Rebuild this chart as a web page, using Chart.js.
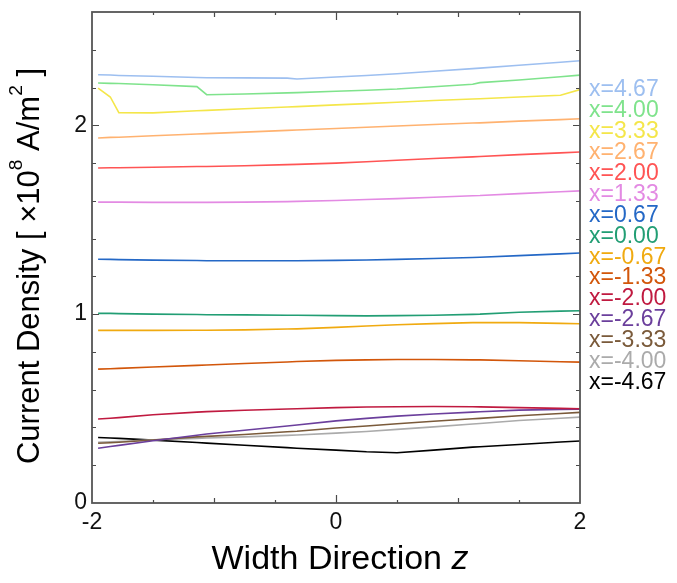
<!DOCTYPE html>
<html>
<head>
<meta charset="utf-8">
<title>Current Density vs Width Direction</title>
<script src="https://cdn.jsdelivr.net/npm/chart.js@4.4.1/dist/chart.umd.min.js"></script>
<style>
    html, body { margin: 0; padding: 0; background: #fff; }
    #wrap { width: 677px; height: 583px; }
</style>
</head>
<body>
<div id="wrap"><canvas id="densityChart" width="677" height="583"></canvas></div>
<script>
// width direction samples (shared by all curves)
const zValues = [-1.95, -1.85, -1.78, -1.5, -1.14, -1.06, -0.75, -0.4, -0.32, 0, 0.25, 0.5, 0.8, 1.12, 1.18, 1.5, 1.84, 2];

// current density [x10^8 A/m^2], one array per x position
const jXp467 = [2.268, 2.266, 2.264, 2.260, 2.253, 2.252, 2.251, 2.250, 2.245, 2.256, 2.264, 2.273, 2.286, 2.300, 2.303, 2.318, 2.334, 2.342];
const jXp400 = [2.224, 2.222, 2.221, 2.215, 2.205, 2.162, 2.166, 2.172, 2.173, 2.180, 2.186, 2.192, 2.204, 2.217, 2.226, 2.240, 2.257, 2.266];
const jXp333 = [2.197, 2.150, 2.067, 2.066, 2.077, 2.079, 2.088, 2.097, 2.099, 2.108, 2.115, 2.122, 2.131, 2.139, 2.141, 2.150, 2.159, 2.189];
const jXp267 = [1.933, 1.936, 1.937, 1.945, 1.954, 1.956, 1.964, 1.973, 1.975, 1.983, 1.990, 1.996, 2.004, 2.012, 2.013, 2.022, 2.030, 2.035];
const jXp200 = [1.774, 1.775, 1.775, 1.778, 1.782, 1.782, 1.786, 1.792, 1.793, 1.800, 1.807, 1.815, 1.824, 1.833, 1.835, 1.845, 1.854, 1.859];
const jXp133 = [1.593, 1.593, 1.593, 1.592, 1.592, 1.592, 1.593, 1.596, 1.597, 1.602, 1.607, 1.612, 1.619, 1.627, 1.628, 1.638, 1.648, 1.653];
const jXp067 = [1.291, 1.290, 1.289, 1.286, 1.284, 1.283, 1.283, 1.283, 1.283, 1.285, 1.287, 1.290, 1.295, 1.300, 1.301, 1.310, 1.319, 1.324];
const jX000 = [1.004, 1.004, 1.003, 1.000, 0.998, 0.997, 0.996, 0.994, 0.994, 0.992, 0.991, 0.992, 0.994, 0.999, 1.000, 1.010, 1.016, 1.018];
const jXm067 = [0.914, 0.914, 0.914, 0.914, 0.915, 0.915, 0.917, 0.921, 0.922, 0.930, 0.937, 0.944, 0.950, 0.955, 0.955, 0.955, 0.951, 0.949];
const jXm133 = [0.709, 0.711, 0.713, 0.720, 0.729, 0.731, 0.739, 0.747, 0.749, 0.755, 0.758, 0.760, 0.760, 0.758, 0.758, 0.753, 0.748, 0.746];
const jXm200 = [0.445, 0.449, 0.452, 0.467, 0.481, 0.484, 0.491, 0.498, 0.499, 0.505, 0.508, 0.510, 0.511, 0.510, 0.509, 0.505, 0.501, 0.499];
const jXm267 = [0.290, 0.299, 0.305, 0.330, 0.359, 0.365, 0.385, 0.408, 0.413, 0.435, 0.448, 0.460, 0.471, 0.481, 0.483, 0.492, 0.496, 0.497];
const jXm333 = [0.316, 0.319, 0.322, 0.334, 0.350, 0.353, 0.363, 0.377, 0.380, 0.397, 0.408, 0.420, 0.433, 0.446, 0.448, 0.462, 0.474, 0.480];
const jXm400 = [0.322, 0.324, 0.326, 0.335, 0.342, 0.344, 0.350, 0.358, 0.360, 0.370, 0.379, 0.390, 0.403, 0.418, 0.421, 0.437, 0.449, 0.455];
const jXm467 = [0.347, 0.344, 0.342, 0.333, 0.320, 0.317, 0.306, 0.293, 0.290, 0.280, 0.271, 0.266, 0.280, 0.296, 0.298, 0.310, 0.323, 0.328];

const seriesLabels = ['x=4.67', 'x=4.00', 'x=3.33', 'x=2.67', 'x=2.00', 'x=1.33', 'x=0.67', 'x=0.00',
    'x=-0.67', 'x=-1.33', 'x=-2.00', 'x=-2.67', 'x=-3.33', 'x=-4.00', 'x=-4.67'];
const seriesValues = [jXp467, jXp400, jXp333, jXp267, jXp200, jXp133, jXp067, jX000,
    jXm067, jXm133, jXm200, jXm267, jXm333, jXm400, jXm467];
const seriesColors = ['#9dbff0', '#7fe38c', '#f4e64a', '#ffb270', '#ff5454', '#e38ae3', '#2468c6', '#229e74',
    '#f0aa10', '#d2560a', '#c01a40', '#6b3f9c', '#7a5a3a', '#ababab', '#000000'];

const yTickLabels = [0, 1, 2];
const xTickLabels = [-2, 0, 2];

const FONT = "'Liberation Sans', Arial, sans-serif";

function isNear(v, list) {
    return list.some(t => Math.abs(v - t) < 1e-6);
}

// frame with inward ticks on all four sides
const framePlugin = {
    id: 'frame',
    afterDatasetsDraw(chart) {
        const { ctx, chartArea: a, scales: { x, y } } = chart;
        ctx.save();
        ctx.strokeStyle = '#4a4a4a';
        ctx.lineWidth = 1.2;
        ctx.beginPath();
        for (let i = 1; i < 13; i++) {
            const v = i * 0.2;
            const py = Math.round(y.getPixelForValue(v)) + 0.5;
            const len = isNear(v, [1, 2]) ? 7 : 4;
            ctx.moveTo(a.left, py); ctx.lineTo(a.left + len, py);
            ctx.moveTo(a.right, py); ctx.lineTo(a.right - len, py);
        }
        for (let i = 1; i < 8; i++) {
            const v = -2 + i * 0.5;
            const px = Math.round(x.getPixelForValue(v)) + 0.5;
            const len = v === 0 ? 8 : (Number.isInteger(v) ? 5 : 3);
            ctx.moveTo(px, a.bottom); ctx.lineTo(px, a.bottom - len);
            ctx.moveTo(px, a.top); ctx.lineTo(px, a.top + len);
        }
        ctx.stroke();
        ctx.lineWidth = 1.8;
        ctx.strokeStyle = '#555';
        ctx.strokeRect(a.left, a.top, a.right - a.left, a.bottom - a.top);
        ctx.restore();
    }
};

function drawRuns(ctx, runs, size, cx, cy) {
    const widths = runs.map(r => {
        ctx.font = (r.italic ? 'italic ' : '') + (r.sup ? size * 0.62 : size) + 'px ' + FONT;
        return ctx.measureText(r.t).width;
    });
    let pos = cx - widths.reduce((s, w) => s + w, 0) / 2;
    runs.forEach((r, i) => {
        ctx.font = (r.italic ? 'italic ' : '') + (r.sup ? size * 0.62 : size) + 'px ' + FONT;
        ctx.fillText(r.t, pos, r.sup ? cy - size * 0.42 : cy);
        pos += widths[i];
    });
}

// axis titles and the coloured label column on the right
const labelsPlugin = {
    id: 'labels',
    afterDraw(chart) {
        const { ctx, chartArea: a } = chart;
        ctx.save();
        ctx.fillStyle = '#000';
        ctx.textBaseline = 'middle';
        ctx.textAlign = 'left';
        drawRuns(ctx, [{ t: 'Width Direction ' }, { t: 'z', italic: true }], 34, (a.left + a.right) / 2 + 4, 560);

        ctx.save();
        ctx.translate(30, 266);
        ctx.rotate(-Math.PI / 2);
        drawRuns(ctx, [{ t: 'Current Density [ ×10' }, { t: '8', sup: true }, { t: ' A/m' }, { t: '2', sup: true }, { t: ' ]' }], 31, 0, 0);
        ctx.restore();

        ctx.font = '23px ' + FONT;
        seriesLabels.forEach((lab, i) => {
            ctx.fillStyle = seriesColors[i];
            ctx.fillText(lab, a.right + 9, 90 + i * 20.9);
        });
        ctx.restore();
    }
};

function init() {
    const datasets = seriesLabels.map((lab, i) => ({
        label: lab,
        data: zValues.map((z, k) => ({ x: z, y: seriesValues[i][k] })),
        borderColor: seriesColors[i],
        borderWidth: 1.6,
        pointRadius: 0,
        fill: false,
        tension: 0
    }));

    new Chart(document.getElementById('densityChart').getContext('2d'), {
        type: 'line',
        data: { datasets: datasets },
        options: {
            responsive: false,
            animation: false,
            layout: { padding: { left: 0, right: 97, top: 12, bottom: 0 } },
            plugins: { legend: { display: false }, tooltip: { enabled: false } },
            scales: {
                x: {
                    type: 'linear', min: -2, max: 2,
                    grid: { display: false, drawTicks: false },
                    border: { display: false },
                    ticks: {
                        stepSize: 0.5, autoSkip: false, maxRotation: 0, padding: 6,
                        color: '#111', font: { size: 23, family: FONT },
                        callback: v => isNear(v, xTickLabels) ? String(Math.round(v)) : ''
                    },
                    afterFit(scale) {
                        scale.height = 80;
                        scale.paddingLeft = 0; scale.paddingRight = 0;
                    }
                },
                y: {
                    type: 'linear', min: 0, max: 2.6,
                    grid: { display: false, drawTicks: false },
                    border: { display: false },
                    ticks: {
                        stepSize: 0.2, autoSkip: false, padding: 5,
                        color: '#111', font: { size: 23, family: FONT },
                        callback: v => isNear(v, yTickLabels) ? String(Math.round(v)) : ''
                    },
                    afterFit(scale) {
                        scale.width = 92;
                        scale.paddingTop = 0; scale.paddingBottom = 0;
                    }
                }
            }
        },
        plugins: [framePlugin, labelsPlugin]
    });
}

if (document.readyState === 'loading') {
    document.addEventListener('DOMContentLoaded', init);
} else { init(); }
</script>
</body>
</html>
